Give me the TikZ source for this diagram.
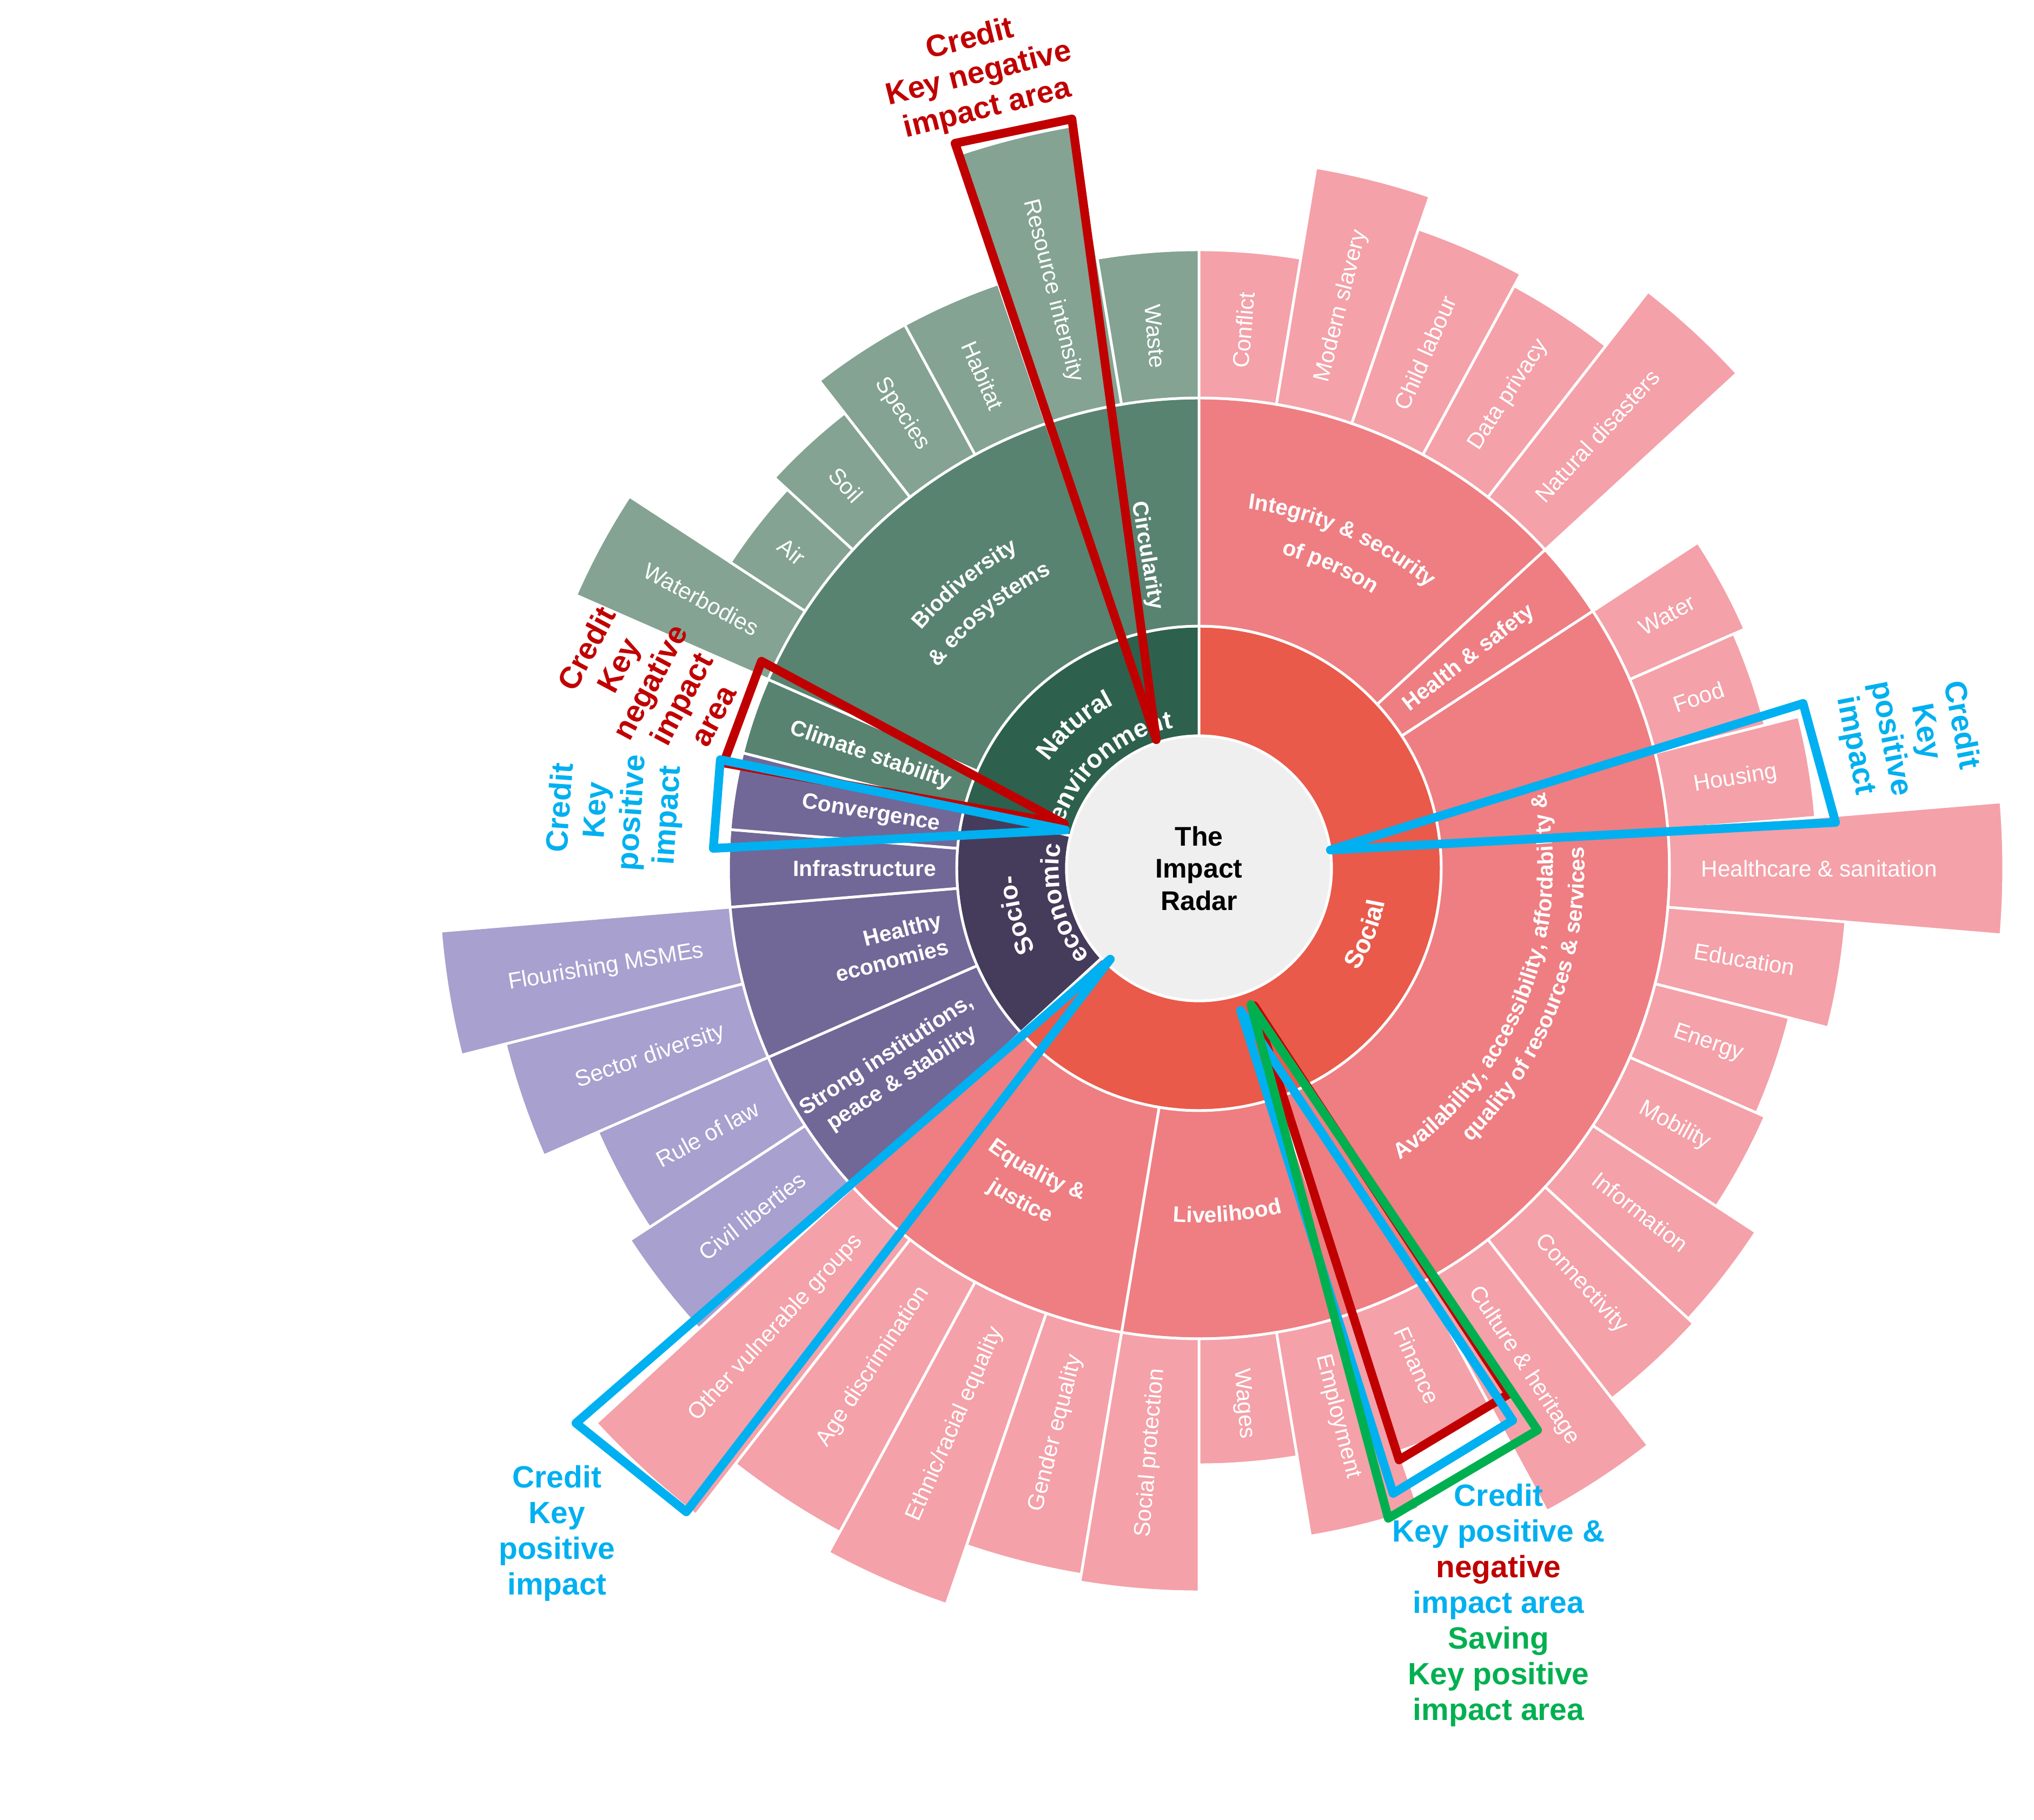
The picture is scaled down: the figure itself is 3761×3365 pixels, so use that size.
\documentclass[tikz,border=0pt]{standalone}
\usepackage{fontspec}
\setmainfont{Liberation Sans}
\usepackage{xcolor}
\usepackage{tikz}
\usetikzlibrary{decorations.text}

\definecolor{leafsoc}{HTML}{F4A1A9}
\definecolor{groupsoc}{HTML}{EE7E82}
\definecolor{coresoc}{HTML}{E95A4A}
\definecolor{leafnat}{HTML}{84A393}
\definecolor{groupnat}{HTML}{588370}
\definecolor{corenat}{HTML}{2D614D}
\definecolor{leafeco}{HTML}{A8A0CE}
\definecolor{groupeco}{HTML}{716897}
\definecolor{coreeco}{HTML}{453C5C}
\definecolor{hub}{HTML}{EFEFEF}
\definecolor{credred}{HTML}{C00000}
\definecolor{credblue}{HTML}{00B0F0}
\definecolor{credgreen}{HTML}{00B050}

\newcommand{\leaffont}{\fontsize{12pt}{14pt}\selectfont}
\newcommand{\groupfont}{\fontsize{11.6pt}{14.5pt}\selectfont\bfseries}
\newcommand{\corefont}{\fontsize{13.4pt}{16pt}\selectfont\bfseries}
\newcommand{\hubfont}{\fontsize{14.2pt}{17pt}\selectfont\bfseries}
\newcommand{\notefont}{\fontsize{16.2pt}{18.8pt}\selectfont\bfseries}

\newcommand{\slotw}{9.473684}
% ring piece from slot #1 to slot #2, radii #3..#4
\newcommand{\radarsector}[5]{%
  \pgfmathsetmacro\aone{90-(#1)*\slotw}%
  \pgfmathsetmacro\atwo{90-(#2+1)*\slotw}%
  \fill[#5, draw=white, line width=1.4pt] (\aone:#3) arc[start angle=\aone, end angle=\atwo, radius=#3]
    -- (\atwo:#4) arc[start angle=\atwo, end angle=\aone, radius=#4] -- cycle;}
% outer leaf with its label
\newcommand{\radarleaf}[5]{%
  \radarsector{#2}{#2}{870}{#3}{#4}%
  \pgfmathsetmacro\amid{90-(#2+0.5)*\slotw}%
  \pgfmathtruncatemacro\rside{cos(\amid)>0}%
  \ifnum\rside=1
    \node[leaflabel, anchor=west, rotate=\amid] (#1) at (\amid:928) {#5};
  \else
    \pgfmathsetmacro\aflip{\amid+180}%
    \node[leaflabel, anchor=east, rotate=\aflip] (#1) at (\amid:928) {#5};
  \fi}
% radial label in the middle ring
\newcommand{\radarradial}[5][center]{%
  \pgfmathsetmacro\amid{90-(#3+#4+1)/2*\slotw}%
  \pgfmathtruncatemacro\rside{cos(\amid)>0}%
  \ifnum\rside=1
    \node[grouplabel, align=#1, anchor=west, rotate=\amid] (#2) at (\amid:485) {#5};
  \else
    \pgfmathsetmacro\aflip{\amid+180}%
    \node[grouplabel, align=#1, anchor=east, rotate=\aflip] (#2) at (\amid:485) {#5};
  \fi}
% curved labels, clockwise and counterclockwise
\newcommand{\cwtext}[4]{%
  \pgfmathsetmacro\astart{#2+80}\pgfmathsetmacro\aend{#2-80}%
  \path[decorate, decoration={text along path, text align=center, text color=white, text={|#3|#4}}]
    (\astart:#1) arc[start angle=\astart, end angle=\aend, radius=#1];}
\newcommand{\ccwtext}[4]{%
  \pgfmathsetmacro\astart{#2-80}\pgfmathsetmacro\aend{#2+80}%
  \path[decorate, decoration={text along path, text align=center, text color=white, text={|#3|#4}}]
    (\astart:#1) arc[start angle=\astart, end angle=\aend, radius=#1];}

\begin{document}
\begin{tikzpicture}[x=0.1mm, y=0.1mm,
  leaflabel/.style={text=white, font=\leaffont, inner sep=0pt},
  grouplabel/.style={text=white, font=\groupfont, inner sep=0pt},
  note/.style={font=\notefont, align=center, inner sep=0pt},
  outline/.style={line width=4.6pt, line join=round}]
 \useasboundingbox (-2217,-1759) rectangle (1544,1606);

 %core ring
 \radarsector{0}{23}{245}{448}{coresoc}
 \radarsector{24}{29}{245}{448}{coreeco}
 \radarsector{30}{37}{245}{448}{corenat}

 %middle ring
 \radarsector{0}{4}{448}{870}{groupsoc}
 \radarsector{5}{5}{448}{870}{groupsoc}
 \radarsector{6}{16}{448}{870}{groupsoc}
 \radarsector{17}{19}{448}{870}{groupsoc}
 \radarsector{20}{23}{448}{870}{groupsoc}
 \radarsector{24}{25}{448}{870}{groupeco}
 \radarsector{26}{27}{448}{870}{groupeco}
 \radarsector{28}{28}{448}{870}{groupeco}
 \radarsector{29}{29}{448}{870}{groupeco}
 \radarsector{30}{30}{448}{870}{groupnat}
 \radarsector{31}{35}{448}{870}{groupnat}
 \radarsector{36}{37}{448}{870}{groupnat}

 %social leaves
 \radarleaf{conflict}{0}{1144}{leafsoc}{Conflict}
 \radarleaf{slavery}{1}{1314}{leafsoc}{Modern slavery}
 \radarleaf{childlab}{2}{1250}{leafsoc}{Child labour}
 \radarleaf{privacy}{3}{1225}{leafsoc}{Data privacy}
 \radarleaf{disasters}{4}{1352}{leafsoc}{Natural disasters}
 \radarleaf{water}{6}{1102}{leafsoc}{Water}
 \radarleaf{food}{7}{1080}{leafsoc}{Food}
 \radarleaf{housing}{8}{1144}{leafsoc}{Housing}
 \radarleaf{healthcare}{9}{1488}{leafsoc}{Healthcare \& sanitation}
 \radarleaf{education}{10}{1200}{leafsoc}{Education}
 \radarleaf{energy}{11}{1126}{leafsoc}{Energy}
 \radarleaf{mobility}{12}{1143}{leafsoc}{Mobility}
 \radarleaf{information}{13}{1230}{leafsoc}{Information}
 \radarleaf{connectivity}{14}{1243}{leafsoc}{Connectivity}
 \radarleaf{culture}{15}{1352}{leafsoc}{Culture \& heritage}
 \radarleaf{finance}{16}{1140}{leafsoc}{Finance}
 \radarleaf{employment}{17}{1252}{leafsoc}{Employment}
 \radarleaf{wages}{18}{1103}{leafsoc}{Wages}
 \radarleaf{socprot}{19}{1338}{leafsoc}{Social protection}
 \radarleaf{gender}{20}{1324}{leafsoc}{Gender equality}
 \radarleaf{ethnic}{21}{1439}{leafsoc}{Ethnic/racial equality}
 \radarleaf{agediscr}{22}{1396}{leafsoc}{Age discrimination}
 \radarleaf{vulnerable}{23}{1515}{leafsoc}{Other vulnerable groups}
 %socio-economic leaves
 \radarleaf{civil}{24}{1257}{leafeco}{Civil liberties}
 \radarleaf{rulelaw}{25}{1214}{leafeco}{Rule of law}
 \radarleaf{sectordiv}{26}{1323}{leafeco}{Sector diversity}
 \radarleaf{msme}{27}{1407}{leafeco}{Flourishing MSMEs}
 %natural leaves
 \radarleaf{waterbodies}{31}{1258}{leafnat}{Waterbodies}
 \radarleaf{air}{32}{1035}{leafnat}{Air}
 \radarleaf{soil}{33}{1067}{leafnat}{Soil}
 \radarleaf{species}{34}{1143}{leafnat}{Species}
 \radarleaf{habitat}{35}{1143}{leafnat}{Habitat}
 \radarleaf{resource}{36}{1393}{leafnat}{Resource intensity}
 \radarleaf{waste}{37}{1144}{leafnat}{Waste}

 %hub
 \fill[hub, draw=white, line width=1.4pt] (0,0) circle[radius=245];
 \node[font=\hubfont, align=center, text=black, inner sep=0pt] (hubtitle) at (0,0) {The\\Impact\\Radar};

 %middle ring labels
 \cwtext{671}{66.5}{\groupfont}{Integrity {\&} security}
 \cwtext{601}{66.5}{\groupfont}{of person}
 \ccwtext{655}{-21.5}{\groupfont}{Availability, accessibility, affordability {\&}}
 \ccwtext{713}{-21}{\groupfont}{quality of resources {\&} services}
 \ccwtext{655}{-85.3}{\groupfont}{Livelihood}
 \ccwtext{650}{-118.2}{\groupfont}{Equality {\&}}
 \ccwtext{712}{-118.2}{\groupfont}{justice}
 \cwtext{676}{129.5}{\groupfont}{Biodiversity}
 \cwtext{609}{129.5}{\groupfont}{{\&} ecosystems}
 \radarradial{health}{5}{5}{Health \& safety}
 \radarradial{institutions}{24}{25}{Strong institutions,\\peace \& stability}
 \radarradial[right]{economies}{26}{27}{Healthy\\economies}
 \radarradial{infra}{28}{28}{Infrastructure}
 \radarradial{convergence}{29}{29}{Convergence}
 \radarradial{climate}{30}{30}{Climate stability}
 \radarradial{circularity}{36}{37}{Circularity}

 %core labels
 \cwtext{341}{131}{\corefont}{Natural}
 \cwtext{264}{131}{\corefont}{environment}
 \cwtext{338}{194.4}{\corefont}{Socio-}
 \cwtext{259}{194.4}{\corefont}{economic}
 \ccwtext{349}{-21.5}{\corefont}{Social}

 %credit and saving outlines
 \coordinate (ritip) at (-79,238);
 \coordinate (rileft) at (-451,1341);
 \coordinate (riright) at (-235,1386);
 \draw[outline, credred] (ritip) -- (rileft) -- (riright) -- cycle;
 \coordinate (cstip) at (-249,82);
 \coordinate (csup) at (-809,383);
 \coordinate (cslow) at (-879,195);
 \draw[outline, credred] (cstip) -- (csup) -- (cslow) -- cycle;
 \coordinate (cvtip) at (-247,71);
 \coordinate (cvup) at (-885,201);
 \coordinate (cvlow) at (-898,37);
 \draw[outline, credblue] (cvtip) -- (cvup) -- (cvlow) -- cycle;
 \coordinate (hstip) at (243,34);
 \coordinate (hsup) at (1117,305);
 \coordinate (hslow) at (1177,85);
 \draw[outline, credblue] (hstip) -- (hsup) -- (hslow) -- cycle;
 \coordinate (ovtip) at (-164,-168);
 \coordinate (ovleft) at (-1152,-1026);
 \coordinate (ovlow) at (-948,-1190);
 \draw[outline, credblue] (ovtip) -- (ovleft) -- (ovlow) -- cycle;
 \coordinate (firtip) at (102,-254);
 \coordinate (firlow) at (370,-1094);
 \coordinate (firup) at (573,-972);
 \draw[outline, credred] (firtip) -- (firlow) -- (firup) -- cycle;
 \coordinate (fibtip) at (77,-263);
 \coordinate (fiblow) at (359,-1156);
 \coordinate (fibup) at (580,-1021);
 \draw[outline, credblue] (fibtip) -- (fiblow) -- (fibup) -- cycle;
 \coordinate (figtip) at (96,-252);
 \coordinate (figlow) at (350,-1202);
 \coordinate (figup) at (626,-1039);
 \draw[outline, credgreen] (figtip) -- (figlow) -- (figup) -- cycle;

 %notes
 \node[note, text=credred, rotate=14] (ritext) at (-407,1468) {Credit\\Key negative\\impact area};
 \node[note, text=credred, rotate=62] (cstext) at (-1016,345) {Credit\\Key\\negative\\impact\\area};
 \node[note, text=credblue, rotate=86] (cvtext) at (-1079,105) {Credit\\Key\\positive\\impact};
 \node[note, text=credblue, rotate=-79] (hstext) at (1310,246) {Credit\\Key\\positive\\impact};
 \node[note, text=credblue] (ovtext) at (-1187,-1230) {Credit\\Key\\positive\\impact};
 \node[note] (fitext) at (554,-1363) {\textcolor{credblue}{Credit}\\\textcolor{credblue}{Key positive \&}\\
   \textcolor{credred}{negative}\\\textcolor{credblue}{impact area}\\\textcolor{credgreen}{Saving}\\
   \textcolor{credgreen}{Key positive}\\\textcolor{credgreen}{impact area}};
\end{tikzpicture}
\end{document}
